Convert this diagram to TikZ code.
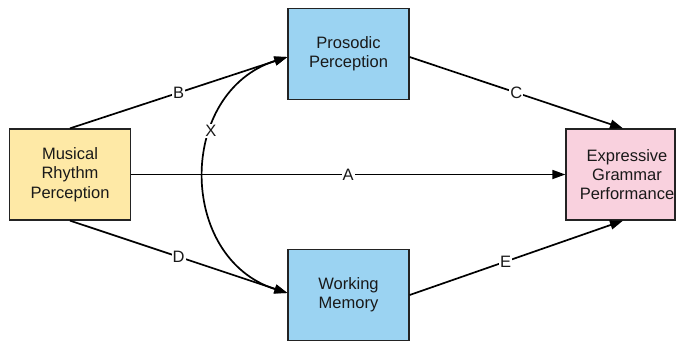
\documentclass[tikz,border=0pt]{standalone}
\usepackage{fontspec}
\setmainfont{Liberation Sans}
\usetikzlibrary{arrows.meta,calc}
\definecolor{yel}{RGB}{254,233,166}
\definecolor{blu}{RGB}{155,211,242}
\definecolor{pnk}{RGB}{249,209,222}
\definecolor{edg}{RGB}{35,35,35}
\definecolor{txt}{RGB}{25,25,25}
\begin{document}
\begin{tikzpicture}[x=1pt,y=-1pt,
  box/.style={draw=edg,line width=1.3pt,minimum width=121pt,minimum height=91pt,align=center,font=\fontsize{16.5}{19.3}\selectfont,text=txt,inner sep=0pt},
  tip/.style={Triangle[length=13pt,width=9pt]},
  conn/.style={line width=1.7pt,-{Triangle[length=13pt,width=9pt]}},
  lab/.style={fill=white,inner sep=1pt,font=\fontsize{16.5}{19}\selectfont,text=txt}]
\useasboundingbox (0,0) rectangle (678,343);
\node[box,fill=yel] (mus) at (70,174.5) {Musical\\Rhythm\\Perception};
\node[box,fill=blu] (pro) at (348.5,54) {Prosodic\\Perception};
\node[box,fill=blu] (wm) at (348.5,295) {Working\\Memory};
\node[box,fill=pnk,minimum width=109pt] (exp) at (620.5,174.5) {};
\node[align=center,font=\fontsize{16.5}{19.3}\selectfont,text=txt,inner sep=0pt] (expt) at ($(exp.center)+(6.5,0)$) {Expressive\\Grammar\\Performance};
\coordinate (proin) at ($(pro.west)+(0,3)$);
\coordinate (proout) at ($(pro.east)+(0,3)$);
\coordinate (wmin) at ($(wm.west)+(0,-2)$);
\coordinate (wmout) at ($(wm.east)+(0,0)$);
\coordinate (expn) at ($(exp.north)+(2.5,0)$);
\coordinate (exps) at ($(exp.south)+(2.5,0)$);
\draw[conn] (mus.north) -- node[lab,pos=.5] {B} (proin);
\draw[conn] (proout) -- node[lab,pos=.5] {C} (expn);
\draw[conn] (mus.east) -- node[lab,pos=.5] {A} (exp.west);
\draw[conn] (mus.south) -- node[lab,pos=.5] {D} (wmin);
\draw[conn] (wmout) -- node[lab,pos=.45] {E} (exps);
\draw[line width=1.7pt,{Triangle[length=13pt,width=9pt]}-{Triangle[length=13pt,width=9pt]}] (proin) .. controls (177,92) and (177,258) .. (wmin);
\node[lab] (xl) at (211,131) {X};
\end{tikzpicture}
\end{document}
